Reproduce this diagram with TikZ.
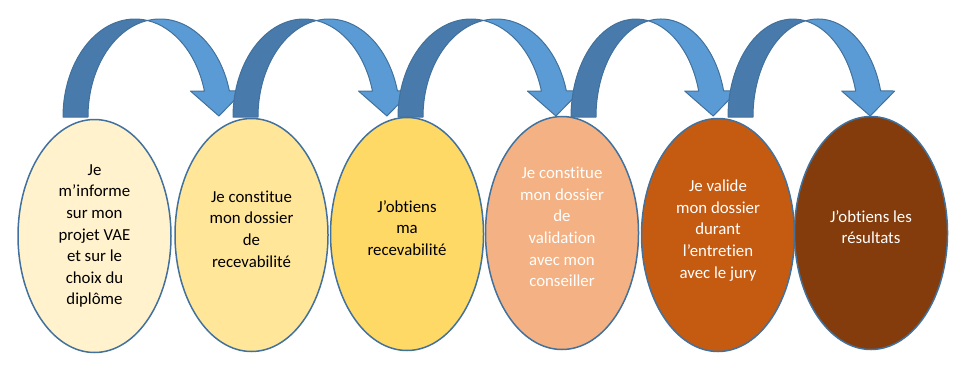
\documentclass[tikz,border=0pt]{standalone}
\usepackage{fontspec}
\setmainfont{Carlito}[Ligatures=NoCommon]
\usepackage{tikz}
\usetikzlibrary{shapes.geometric}
\definecolor{vaeLine}{HTML}{41719C}
\definecolor{vaeBlue}{HTML}{5B9BD5}
\definecolor{vaeBlueDark}{HTML}{487AAB}
\definecolor{stepA}{HTML}{FFF2CC}
\definecolor{stepB}{HTML}{FFE699}
\definecolor{stepC}{HTML}{FFD966}
\definecolor{stepD}{HTML}{F4B183}
\definecolor{stepE}{HTML}{C55A11}
\definecolor{stepF}{HTML}{843C0C}

\begin{document}
\begin{tikzpicture}[x=0.5pt, y=0.5pt,
  stepnode/.style={ellipse,draw=vaeLine,line width=0.75pt,minimum width=76.5pt,
    minimum height=116.5pt,inner sep=0pt,align=center,
    font=\fontsize{8.4}{10.8}\selectfont},
  back/.style={fill=vaeBlueDark,draw=vaeLine,line width=0.5pt,line join=round},
  front/.style={fill=vaeBlue,draw=vaeLine,line width=0.5pt,line join=round}]
\useasboundingbox (0,0) rectangle (972,387);
% --- curved arrows (tail x / radius) ---
\foreach \xl/\r in {63/72, 233/71, 398/73, 571/65, 728/65} {
  \pgfmathsetmacro\ta{acos(12.5/\r)}
  \pgfmathsetmacro\tb{180-\ta}
  \pgfmathsetmacro\xa{\xl+\r}
  \pgfmathsetmacro\xin{\xa+\r*cos(15.4)}
  \filldraw[back] (\xl,270)
    arc[start angle=180, end angle=\ta, x radius=\r, y radius=98]
    arc[start angle=\tb, end angle=180, x radius=\r, y radius=98] -- cycle;
  \filldraw[front] ({\xa+12.5},{270+98*sin(\ta)})
    arc[start angle=\tb, end angle=15.4, x radius=\r, y radius=98]
    -- ({\xin+39},296) -- ({\xin+14.5},271) -- ({\xin-14},296)
    -- (\xin,296)
    arc[start angle=15.4, end angle=\ta, x radius=\r, y radius=98] -- cycle;
}
% --- steps ---
\node[stepnode,fill=stepA] (s1) at (94.5,151)
  {Je\\m’informe\\sur mon\\projet VAE\\et sur le\\choix du\\diplôme};
\node[stepnode,fill=stepB] (s2) at (251.5,152)
  {Je constitue\\mon dossier\\de\\recevabilité\\[-4.8pt]};
\node[stepnode,fill=stepC] (s3) at (407,153)
  {J’obtiens\\ma\\recevabilité\\[-4.8pt]};
\node[stepnode,fill=stepD,text=white] (s4) at (562,154)
  {Je constitue\\mon dossier\\de\\validation\\avec mon\\conseiller\\[-4.8pt]};
\node[stepnode,fill=stepE,text=white] (s5) at (718,152)
  {Je valide\\mon dossier\\durant\\l’entretien\\avec le jury\\[-4.8pt]};
\node[stepnode,fill=stepF,text=white] (s6) at (871,154)
  {J’obtiens les\\résultats\\[-4.8pt]};
\end{tikzpicture}
\end{document}
